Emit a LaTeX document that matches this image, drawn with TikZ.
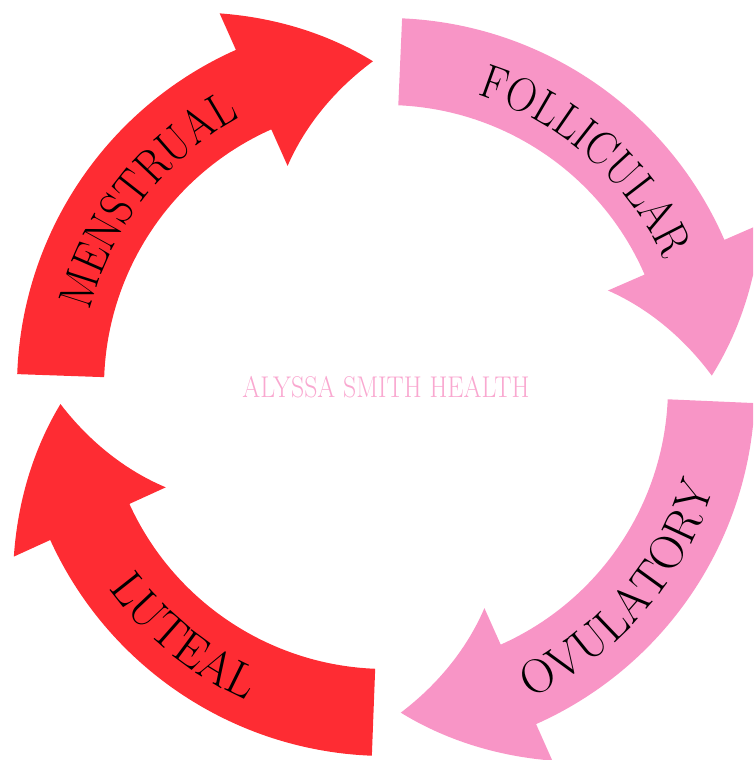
\documentclass[tikz,border=0pt]{standalone}
\usepackage{fontspec}
\usetikzlibrary{decorations.text}
\definecolor{cycred}{HTML}{FE2C33}
\definecolor{cycpink}{HTML}{F895C6}
\definecolor{brandpink}{HTML}{F9A8D0}
\newfontfamily\lmtop{lmroman17-regular.otf}[FakeStretch=0.875]
\newfontfamily\lmbot{lmroman17-regular.otf}[FakeStretch=0.98]
\newfontfamily\lmbrand{lmroman17-regular.otf}
\newcommand\cycarrow[4]{%
  \fill[#1] (#2:369) arc[start angle=#2, end angle=#3, radius=369] -- (#3:409)
    -- plot[domain=0:1, samples=40, variable=\tt] ({#3+(#4-#3)*\tt}:{409-83*\tt})
    -- plot[domain=1:0, samples=40, variable=\tt] ({#3+(#4-#3)*\tt}:{242+84*\tt})
    -- (#3:282) arc[start angle=#3, end angle=#2, radius=282] -- cycle;}
\tikzset{
  phasetop/.style={decorate, decoration={text along path, text align=center,
     text={|\lmtop\fontsize{48}{48}\selectfont|#1}}},
  phasebot/.style={decorate, decoration={text along path, text align=center,
     text={|\lmbot\fontsize{48}{48}\selectfont|#1}}}
}
\begin{document}
\begin{tikzpicture}[x=1pt,y=1pt]
\useasboundingbox (0,0) rectangle (753,760);
\clip (0,0) rectangle (753,760);
\begin{scope}[shift={(386,373)}]
  \cycarrow{cycred}{178}{114}{92.3}
  \cycarrow{cycpink}{87.5}{23.5}{2}
  \cycarrow{cycpink}{-2.5}{-66}{-87.4}
  \cycarrow{cycred}{-92.2}{-155.5}{-177}
  % labels
  \path[phasetop=MENSTRUAL] (182:306) arc[start angle=182, end angle=102, radius=306];
  \path[phasetop=FOLLICULAR] (88.5:306) arc[start angle=88.5, end angle=8.5, radius=306];
  \path[phasebot=OVULATORY] (-81:343) arc[start angle=-81, end angle=-1, radius=343];
  \path[phasebot=LUTEAL] (-169:343) arc[start angle=-169, end angle=-89, radius=343];
  \node[brandpink, font=\lmbrand\fontsize{30}{30}\selectfont, xscale=0.86, transform shape] (brand) at (0,0) {ALYSSA SMITH HEALTH};
\end{scope}
\end{tikzpicture}
\end{document}
